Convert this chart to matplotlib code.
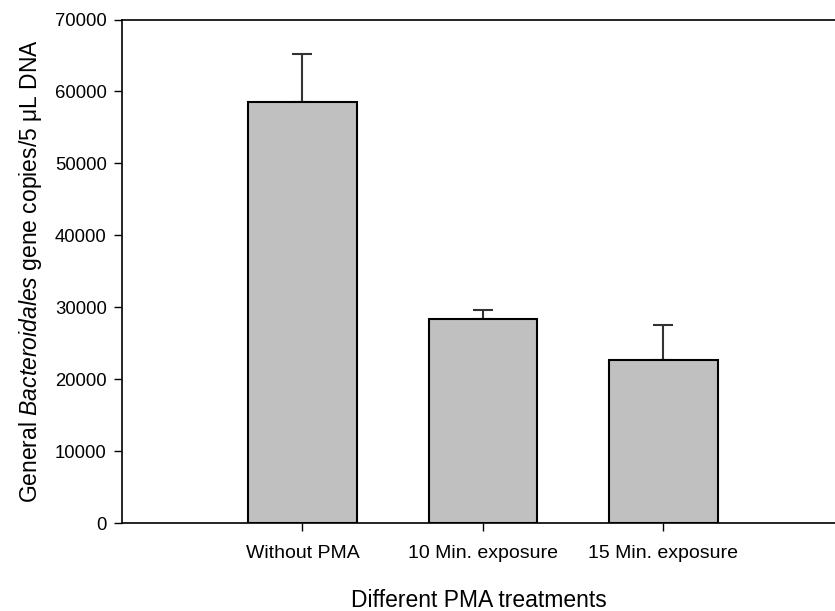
import matplotlib.pyplot as plt

plt.rcParams['font.family'] = ['Liberation Sans', 'DejaVu Sans']
plt.rcParams['mathtext.fontset'] = 'custom'
plt.rcParams['mathtext.rm'] = 'Liberation Sans'
plt.rcParams['mathtext.it'] = 'Liberation Sans:italic'

treatments = ['Without PMA', '10 Min. exposure', '15 Min. exposure']
gene_copies = [58500, 28300, 22700]
errors = [6700, 1300, 4800]


def plot():
    fig = plt.figure(figsize=(8.35, 6.11), dpi=100)
    ax = fig.add_axes([0.146, 0.144, 0.854, 0.824])

    positions = list(range(1, len(treatments) + 1))
    ax.bar(positions, gene_copies, width=0.6, color='#c0c0c0',
           edgecolor='black', linewidth=1.5, zorder=2)
    # upper error bars only
    ax.errorbar(positions, gene_copies, yerr=[[0] * len(errors), errors],
                fmt='none', ecolor='#333333', elinewidth=1.5, capsize=7,
                capthick=1.5, zorder=1)

    ax.set_xlim(0, 3.95)
    ax.set_ylim(0, 70000)
    ax.set_yticks(range(0, 70001, 10000))
    ax.set_xticks(positions)
    ax.set_xticklabels(treatments)
    ax.tick_params(axis='x', labelsize=14, direction='out', length=6, width=1, pad=10)
    ax.tick_params(axis='y', labelsize=13.3, direction='out', length=6, width=1, pad=5)

    ax.spines['right'].set_visible(False)
    for side in ['left', 'bottom', 'top']:
        ax.spines[side].set_linewidth(1.2)

    ax.set_xlabel('Different PMA treatments', fontsize=16.5, labelpad=19)
    ax.set_ylabel('General $\\it{Bacteroidales}$ gene copies/5 \u03bcL DNA',
                  fontsize=16.5, labelpad=8)

    plt.savefig('out.png', dpi=100)
    plt.close()


if __name__ == '__main__':
    plot()
